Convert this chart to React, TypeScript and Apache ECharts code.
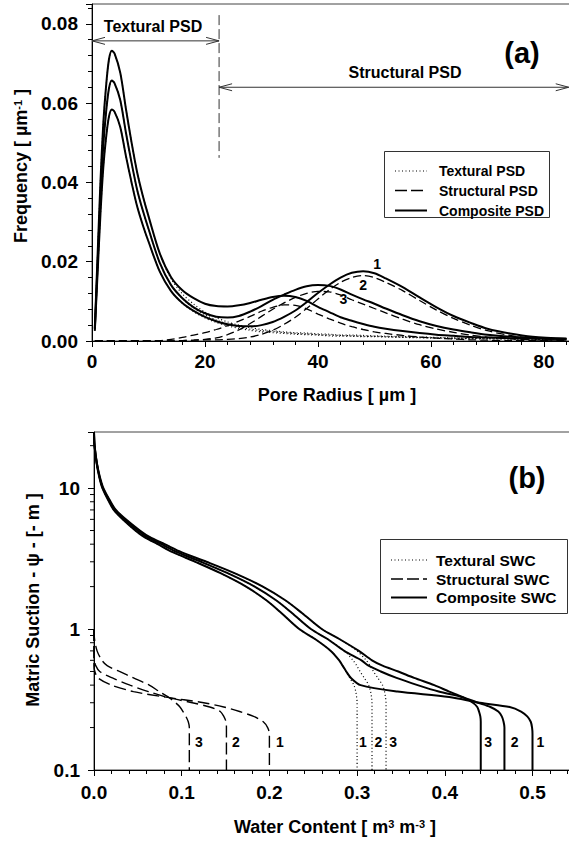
import React, { useEffect, useRef } from 'react';
import * as echarts from 'echarts';

// ---------- Panel (a): pore size distributions ----------
const poreRadius = [0.5, 1, 1.5, 2, 2.5, 3, 3.5, 4, 5, 6, 7, 8, 9, 10, 12, 14, 16, 18, 20, 22, 24, 26, 28, 30, 32, 34, 36, 38, 40, 42, 44, 46, 48, 50, 52, 55, 58, 61, 64, 67, 70, 74, 78, 84];

const texturalPSD1 = [0.0026, 0.0175, 0.0321, 0.0438, 0.0514, 0.0566, 0.0584, 0.0578, 0.054, 0.0467, 0.04, 0.0339, 0.0292, 0.0251, 0.0175, 0.0126, 0.0095, 0.0074, 0.0058, 0.0047, 0.0038, 0.0032, 0.0027, 0.0023, 0.0021, 0.0019, 0.0017, 0.0016, 0.0015, 0.0013, 0.0012, 0.0012, 0.0011, 0.0011, 0.001, 0.0009, 0.0008, 0.0007, 0.0006, 0.0006, 0.0005, 0.0005, 0.0004, 0.0004];
const texturalPSD2 = [0.003, 0.0197, 0.0361, 0.0493, 0.0578, 0.0637, 0.0657, 0.065, 0.0608, 0.0526, 0.045, 0.0381, 0.0329, 0.0283, 0.0197, 0.0141, 0.0107, 0.0083, 0.0066, 0.0053, 0.0043, 0.0035, 0.003, 0.0026, 0.0024, 0.0021, 0.0019, 0.0018, 0.0016, 0.0015, 0.0014, 0.0013, 0.0012, 0.0012, 0.0011, 0.001, 0.0009, 0.0008, 0.0007, 0.0007, 0.0006, 0.0005, 0.0005, 0.0004];
const texturalPSD3 = [0.0033, 0.022, 0.0403, 0.0549, 0.0644, 0.071, 0.0732, 0.0725, 0.0677, 0.0586, 0.0501, 0.0425, 0.0366, 0.0315, 0.022, 0.0157, 0.0119, 0.0093, 0.0073, 0.0059, 0.0048, 0.004, 0.0034, 0.0029, 0.0026, 0.0023, 0.0021, 0.002, 0.0018, 0.0017, 0.0015, 0.0015, 0.0014, 0.0013, 0.0012, 0.0011, 0.001, 0.0009, 0.0008, 0.0007, 0.0007, 0.0006, 0.0005, 0.0005];

const structuralPSD1 = [0, 0, 0, 0, 0, 0, 0, 0, 0, 0, 0, 0, 0, 0, 0, 0, 0.0001, 0.0002, 0.0003, 0.0003, 0.0004, 0.0006, 0.001, 0.0017, 0.0027, 0.0042, 0.006, 0.0082, 0.0106, 0.0129, 0.0148, 0.016, 0.0165, 0.016, 0.0148, 0.0127, 0.0102, 0.0078, 0.0057, 0.004, 0.0026, 0.0014, 0.0007, 0.0002];
const structuralPSD2 = [0, 0, 0, 0, 0, 0, 0, 0, 0, 0, 0, 0, 0, 0, 0, 0, 0.0001, 0.0002, 0.0004, 0.0008, 0.0016, 0.0028, 0.0044, 0.0062, 0.008, 0.0096, 0.011, 0.012, 0.0125, 0.0124, 0.0116, 0.0104, 0.0093, 0.0082, 0.0071, 0.0055, 0.0041, 0.003, 0.0022, 0.0015, 0.001, 0.0006, 0.0003, 0.0001];
const structuralPSD3 = [0, 0, 0, 0, 0, 0, 0, 0, 0, 0, 0, 0, 0, 0, 0.0001, 0.0004, 0.0009, 0.0015, 0.0021, 0.0029, 0.0039, 0.005, 0.0062, 0.0075, 0.0085, 0.0091, 0.009, 0.0081, 0.0068, 0.0056, 0.0045, 0.0036, 0.0029, 0.0023, 0.0019, 0.0014, 0.001, 0.0007, 0.0005, 0.0003, 0.0002, 0.0001, 0.0001, 0];

const compositePSD1 = [0.0026, 0.0175, 0.0321, 0.0438, 0.0514, 0.0566, 0.0584, 0.0578, 0.054, 0.0467, 0.04, 0.0339, 0.0292, 0.0251, 0.0175, 0.0126, 0.0096, 0.0076, 0.0061, 0.005, 0.0042, 0.0038, 0.0037, 0.004, 0.0048, 0.0061, 0.0077, 0.0098, 0.0121, 0.0142, 0.016, 0.0172, 0.0176, 0.0171, 0.0158, 0.0136, 0.011, 0.0085, 0.0063, 0.0046, 0.0031, 0.0019, 0.0011, 0.0006];
const compositePSD2 = [0.003, 0.0197, 0.0361, 0.0493, 0.0578, 0.0637, 0.0657, 0.065, 0.0608, 0.0526, 0.045, 0.0381, 0.0329, 0.0283, 0.0197, 0.0141, 0.0108, 0.0085, 0.007, 0.0061, 0.0059, 0.0063, 0.0074, 0.0088, 0.0104, 0.0117, 0.0129, 0.0138, 0.0141, 0.0139, 0.013, 0.0117, 0.0105, 0.0094, 0.0082, 0.0065, 0.005, 0.0038, 0.0029, 0.0022, 0.0016, 0.0011, 0.0008, 0.0005];
const compositePSD3 = [0.0033, 0.022, 0.0403, 0.0549, 0.0644, 0.071, 0.0732, 0.0725, 0.0677, 0.0586, 0.0501, 0.0425, 0.0366, 0.0315, 0.0221, 0.0161, 0.0128, 0.0108, 0.0094, 0.0088, 0.0087, 0.009, 0.0096, 0.0104, 0.0111, 0.0114, 0.0111, 0.0101, 0.0086, 0.0073, 0.006, 0.0051, 0.0043, 0.0036, 0.0031, 0.0025, 0.002, 0.0016, 0.0013, 0.001, 0.0009, 0.0007, 0.0006, 0.0005];

const psdCurveLabels = [
  { text: '1', r: 50.5, f: 0.0194 },
  { text: '2', r: 48.0, f: 0.0141 },
  { text: '3', r: 44.5, f: 0.0105 },
];

// ---------- Panel (b): soil water characteristics ----------
const suction = [25, 20, 15, 12, 10, 8, 7, 6, 5, 4.5, 4, 3.5, 3, 2.5, 2, 1.6, 1.3, 1.0, 0.85, 0.7, 0.6, 0.55, 0.5, 0.45, 0.4, 0.36, 0.33, 0.3, 0.28, 0.26, 0.24, 0.22, 0.2, 0.18, 0.15, 0.12, 0.1];

const texturalSWC1 = [0, 0.0006, 0.003, 0.006, 0.0096, 0.0171, 0.0225, 0.0327, 0.0471, 0.057, 0.0726, 0.0903, 0.1155, 0.1437, 0.1734, 0.1965, 0.2136, 0.234, 0.252, 0.27, 0.2796, 0.2835, 0.2871, 0.2916, 0.2964, 0.2985, 0.2994, 0.3, 0.3, 0.3, 0.3, 0.3, 0.3, 0.3, 0.3, 0.3, 0.3];
const texturalSWC2 = [0, 0.0006, 0.0032, 0.0063, 0.0101, 0.0181, 0.0238, 0.0346, 0.0498, 0.0602, 0.0767, 0.0954, 0.122, 0.1518, 0.1832, 0.2076, 0.2257, 0.2473, 0.2663, 0.2853, 0.2954, 0.2996, 0.3034, 0.3081, 0.3132, 0.3154, 0.3164, 0.317, 0.317, 0.317, 0.317, 0.317, 0.317, 0.317, 0.317, 0.317, 0.317];
const texturalSWC3 = [0, 0.0007, 0.0033, 0.0067, 0.0107, 0.019, 0.025, 0.0363, 0.0523, 0.0633, 0.0806, 0.1002, 0.1282, 0.1595, 0.1925, 0.2181, 0.2371, 0.2597, 0.2797, 0.2997, 0.3104, 0.3147, 0.3187, 0.3237, 0.329, 0.3313, 0.3323, 0.333, 0.333, 0.333, 0.333, 0.333, 0.333, 0.333, 0.333, 0.333, 0.333];

const compositeSWC1 = [0, 0.0006, 0.003, 0.006, 0.0096, 0.0171, 0.0225, 0.0327, 0.0471, 0.057, 0.0726, 0.0903, 0.1155, 0.1437, 0.1734, 0.1965, 0.2136, 0.234, 0.252, 0.27, 0.2796, 0.2835, 0.2876, 0.293, 0.304, 0.346, 0.405, 0.44, 0.474, 0.487, 0.494, 0.498, 0.4995, 0.5, 0.5, 0.5, 0.5];
const compositeSWC2 = [0, 0.0006, 0.0032, 0.0063, 0.0101, 0.0181, 0.0238, 0.0346, 0.0498, 0.0602, 0.0767, 0.0954, 0.122, 0.1518, 0.1832, 0.2076, 0.2257, 0.2473, 0.2663, 0.2853, 0.305, 0.313, 0.327, 0.345, 0.369, 0.393, 0.419, 0.438, 0.452, 0.461, 0.465, 0.467, 0.468, 0.468, 0.468, 0.468, 0.468];
const compositeSWC3 = [0, 0.0007, 0.0033, 0.0067, 0.0107, 0.019, 0.025, 0.0363, 0.0523, 0.0633, 0.0806, 0.1002, 0.1282, 0.1595, 0.1925, 0.2181, 0.2371, 0.2597, 0.2797, 0.302, 0.317, 0.329, 0.347, 0.365, 0.388, 0.405, 0.42, 0.432, 0.437, 0.439, 0.4405, 0.441, 0.441, 0.441, 0.441, 0.441, 0.441];

const suctionStructural = [1.0, 0.85, 0.7, 0.6, 0.55, 0.5, 0.45, 0.4, 0.36, 0.33, 0.3, 0.28, 0.26, 0.24, 0.22, 0.2, 0.18, 0.15, 0.12, 0.1];
const structuralSWC1 = [0, 0, 0, 0, 0, 0.001, 0.0045, 0.02, 0.045, 0.08, 0.125, 0.148, 0.166, 0.182, 0.193, 0.198, 0.2, 0.2, 0.2, 0.2];
const structuralSWC2 = [0, 0, 0, 0.0006, 0.002, 0.0065, 0.021, 0.041, 0.062, 0.082, 0.112, 0.132, 0.144, 0.148, 0.1505, 0.151, 0.151, 0.151, 0.151, 0.151];
const structuralSWC3 = [0, 0.0006, 0.0035, 0.009, 0.015, 0.029, 0.045, 0.063, 0.0745, 0.0845, 0.093, 0.098, 0.1015, 0.1048, 0.1075, 0.1087, 0.1087, 0.1087, 0.1087, 0.1087];

const swcLabelSuction = 0.159;
const swcCurveLabels = [
  { text: '3', theta: 0.1195 },
  { text: '2', theta: 0.1617 },
  { text: '1', theta: 0.2121 },
  { text: '1', theta: 0.3065 },
  { text: '2', theta: 0.3243 },
  { text: '3', theta: 0.341 },
  { text: '3', theta: 0.4493 },
  { text: '2', theta: 0.4795 },
  { text: '1', theta: 0.509 },
];

const logMinorTicks = [0.2, 0.3, 0.4, 0.5, 0.6, 0.7, 0.8, 0.9, 2, 3, 4, 5, 6, 7, 8, 9, 20];

// ---------- styling ----------
const FONT = '"Liberation Sans", Arial, Helvetica, sans-serif';
const INK = '#000';

const pairs = (xs: number[], ys: number[]) => xs.map((x, i) => [x, ys[i]]);

const dotted = { width: 1.2, type: [1, 2.5] as any };
const dashedA = { width: 1.3, type: [8, 4] as any };
const dashedB = { width: 1.4, type: [12, 5] as any };
const solid = { width: 2, type: 'solid' as any };

function lineSeries(name: string, data: number[][], idx: number, style: any, z: number) {
  return {
    type: 'line',
    name,
    xAxisIndex: idx,
    yAxisIndex: idx,
    data,
    showSymbol: false,
    symbol: 'none',
    smooth: 0.3,
    silent: true,
    z,
    lineStyle: { color: INK, cap: 'butt', ...style },
  };
}

const tickLabel = {
  color: INK,
  fontFamily: FONT,
  fontWeight: 'bold',
  fontSize: 19,
};

const isMultiple = (v: number, step: number) => Math.abs(v / step - Math.round(v / step)) < 1e-6;

function buildOption(): any {
  const axisLine = { show: true, onZero: false, lineStyle: { color: INK, width: 1 } };
  const axisTick = { show: true, length: 6, lineStyle: { color: INK, width: 1 } };
  const minorTick = { show: true, splitNumber: 5, length: 4, lineStyle: { color: INK, width: 1 } };

  return {
    animation: false,
    backgroundColor: '#fff',
    grid: [
      { left: 92, top: 4, width: 479, height: 337, show: true, borderColor: '#444', borderWidth: 1, outerBoundsMode: 'none' },
      { left: 94, top: 432, width: 477, height: 338, show: true, borderColor: '#444', borderWidth: 1, outerBoundsMode: 'none' },
    ],
    xAxis: [
      {
        gridIndex: 0, type: 'value', min: 0, max: 84.8, interval: 20,
        axisLine, axisTick, minorTick, splitLine: { show: false }, minorSplitLine: { show: false },
        axisLabel: { ...tickLabel, margin: 11, formatter: (v: number) => (isMultiple(v, 20) ? String(Math.round(v)) : '') },
      },
      {
        gridIndex: 1, type: 'value', min: 0, max: 0.5439, interval: 0.1,
        axisLine, axisTick, minorTick, splitLine: { show: false }, minorSplitLine: { show: false },
        axisLabel: { ...tickLabel, margin: 13, formatter: (v: number) => (isMultiple(v, 0.1) ? v.toFixed(1) : '') },
      },
    ],
    yAxis: [
      {
        gridIndex: 0, type: 'value', min: 0, max: 0.085, interval: 0.02,
        axisLine, axisTick, minorTick, splitLine: { show: false }, minorSplitLine: { show: false },
        axisLabel: { ...tickLabel, margin: 14, formatter: (v: number) => (isMultiple(v, 0.02) ? v.toFixed(2) : '') },
      },
      {
        gridIndex: 1, type: 'log', logBase: 10, min: 0.1, max: 25,
        axisLine, axisTick, splitLine: { show: false },
        axisLabel: {
          ...tickLabel, margin: 14,
          formatter: (v: number) => {
            const l = Math.log10(v);
            if (Math.abs(l - Math.round(l)) > 1e-6) return '';
            return v < 1 ? v.toFixed(1) : String(Math.round(v));
          },
        },
      },
    ],
    series: [
      lineSeries('Textural PSD', pairs(poreRadius, texturalPSD1), 0, dotted, 2),
      lineSeries('Textural PSD', pairs(poreRadius, texturalPSD2), 0, dotted, 2),
      lineSeries('Textural PSD', pairs(poreRadius, texturalPSD3), 0, dotted, 2),
      lineSeries('Structural PSD', pairs(poreRadius, structuralPSD1), 0, dashedA, 3),
      lineSeries('Structural PSD', pairs(poreRadius, structuralPSD2), 0, dashedA, 3),
      lineSeries('Structural PSD', pairs(poreRadius, structuralPSD3), 0, dashedA, 3),
      lineSeries('Composite PSD', pairs(poreRadius, compositePSD1), 0, solid, 4),
      lineSeries('Composite PSD', pairs(poreRadius, compositePSD2), 0, solid, 4),
      lineSeries('Composite PSD', pairs(poreRadius, compositePSD3), 0, solid, 4),

      lineSeries('Textural SWC', pairs(texturalSWC1, suction), 1, dotted, 2),
      lineSeries('Textural SWC', pairs(texturalSWC2, suction), 1, dotted, 2),
      lineSeries('Textural SWC', pairs(texturalSWC3, suction), 1, dotted, 2),
      lineSeries('Structural SWC', pairs(structuralSWC1, suctionStructural), 1, dashedB, 3),
      lineSeries('Structural SWC', pairs(structuralSWC2, suctionStructural), 1, dashedB, 3),
      lineSeries('Structural SWC', pairs(structuralSWC3, suctionStructural), 1, dashedB, 3),
      lineSeries('Composite SWC', pairs(compositeSWC1, suction), 1, solid, 4),
      lineSeries('Composite SWC', pairs(compositeSWC2, suction), 1, solid, 4),
      lineSeries('Composite SWC', pairs(compositeSWC3, suction), 1, solid, 4),
    ],
  };
}

function text(x: number, y: number, t: string, size: number, extra: any = {}) {
  return {
    type: 'text', x, y, z: 100, silent: true,
    style: {
      text: t, fill: INK, fontFamily: FONT, fontWeight: 'bold', fontSize: size,
      align: 'center', verticalAlign: 'middle', ...extra,
    },
  };
}

function buildGraphic(chart: any): any[] {
  const p0 = (x: number, y: number) => chart.convertToPixel({ gridIndex: 0 }, [x, y]) as number[];
  const p1 = (x: number, y: number) => chart.convertToPixel({ gridIndex: 1 }, [x, y]) as number[];
  const annot = { stroke: '#333', lineWidth: 1 };
  const seg = (a: number[], b: number[], style: any = annot) => ({
    type: 'line', z: 50, silent: true,
    shape: { x1: a[0], y1: a[1], x2: b[0], y2: b[1] }, style,
  });
  const chevron = (tip: number[], dir: number) => ({
    type: 'polyline', z: 50, silent: true,
    shape: { points: [[tip[0] + dir * 13, tip[1] - 3.5], [tip[0], tip[1]], [tip[0] + dir * 13, tip[1] + 3.5]] },
    style: { stroke: '#333', lineWidth: 1, fill: 'none' },
  });

  const texL = p0(0, 0.0757);
  const texR = p0(22.5, 0.0757);
  const strL = p0(22.5, 0.064);
  const strR = p0(84.4, 0.064);
  const divTop = p0(22.5, 0.0822);
  const divBot = p0(22.5, 0.0462);

  const els: any[] = [
    seg(texL, texR), chevron(texL, 1), chevron(texR, -1),
    seg(strL, strR), chevron(strL, 1), chevron(strR, -1),
    seg(divTop, divBot, { stroke: '#333', lineWidth: 1, lineDash: [10, 4] }),
    text(153, 26, 'Textural PSD', 16),
    text(405, 72, 'Structural PSD', 16),
    text(522, 53, '(a)', 29),
    text(527, 478, '(b)', 29),
  ];

  // curve numbers, placed through the axes' scales
  psdCurveLabels.forEach((l) => {
    const q = p0(l.r, l.f);
    els.push(text(q[0], q[1], l.text, 14));
  });
  swcCurveLabels.forEach((l) => {
    const q = p1(l.theta, swcLabelSuction);
    els.push(text(q[0], q[1], l.text, 14));
  });

  // minor ticks of the logarithmic suction axis
  logMinorTicks.forEach((v) => {
    const q = p1(0, v);
    els.push(seg([q[0] - 4, q[1]], [q[0], q[1]], { stroke: INK, lineWidth: 1 }));
  });

  // axis titles
  const sup = { fontSize: 11, fontWeight: 'bold', fontFamily: FONT, fill: INK, verticalAlign: 'top' };
  els.push(text(337, 395, 'Pore Radius [ µm ]', 18));
  els.push(text(335, 827, 'Water Content [ m{sup|3} m{sup|-3} ]', 18, { rich: { sup } }));
  els.push({ ...text(0, 0, 'Frequency [ µm{sup|-1} ]', 18, { rich: { sup } }), x: 21, y: 166, rotation: Math.PI / 2 });
  els.push({ ...text(0, 0, 'Matric Suction - ψ - [- m ]', 18), x: 33, y: 600, rotation: Math.PI / 2 });

  // legend (a)
  els.push({ type: 'rect', z: 40, silent: true, shape: { x: 384.5, y: 151.5, width: 165, height: 66 }, style: { fill: '#fff', stroke: '#333', lineWidth: 1 } });
  const legA = [
    { y: 171, name: 'Textural PSD', style: { stroke: INK, lineWidth: 1.2, lineDash: [1, 2.5] } },
    { y: 190.5, name: 'Structural PSD', style: { stroke: INK, lineWidth: 1.3, lineDash: [12, 4] } },
    { y: 210.5, name: 'Composite PSD', style: { stroke: INK, lineWidth: 2 } },
  ];
  legA.forEach((r) => {
    els.push({ type: 'line', z: 41, silent: true, shape: { x1: 395, y1: r.y, x2: 427, y2: r.y }, style: r.style });
    els.push({ ...text(439, r.y, r.name, 14, { align: 'left' }), z: 41 });
  });

  // legend (b)
  els.push({ type: 'rect', z: 40, silent: true, shape: { x: 380.5, y: 539.5, width: 187, height: 74 }, style: { fill: '#fff', stroke: '#333', lineWidth: 1 } });
  const legB = [
    { y: 560, name: 'Textural SWC', style: { stroke: INK, lineWidth: 1.2, lineDash: [1, 2.5] } },
    { y: 579, name: 'Structural SWC', style: { stroke: INK, lineWidth: 1.3, lineDash: [12, 4] } },
    { y: 597.5, name: 'Composite SWC', style: { stroke: INK, lineWidth: 2 } },
  ];
  legB.forEach((r) => {
    els.push({ type: 'line', z: 41, silent: true, shape: { x1: 391, y1: r.y, x2: 427, y2: r.y }, style: r.style });
    els.push({ ...text(436, r.y, r.name, 15.5, { align: 'left' }), z: 41 });
  });

  return els;
}

export default function App() {
  const ref = useRef<HTMLDivElement>(null);
  useEffect(() => {
    if (!ref.current) return;
    const chart = echarts.init(ref.current, undefined, { renderer: 'svg' });
    chart.setOption(buildOption());
    chart.setOption({ graphic: { elements: buildGraphic(chart) } });
    return () => chart.dispose();
  }, []);
  return (
    <div
      ref={ref}
      style={{ position: 'absolute', left: 0, top: 0, width: 569, height: 844, background: '#fff' }}
    />
  );
}
